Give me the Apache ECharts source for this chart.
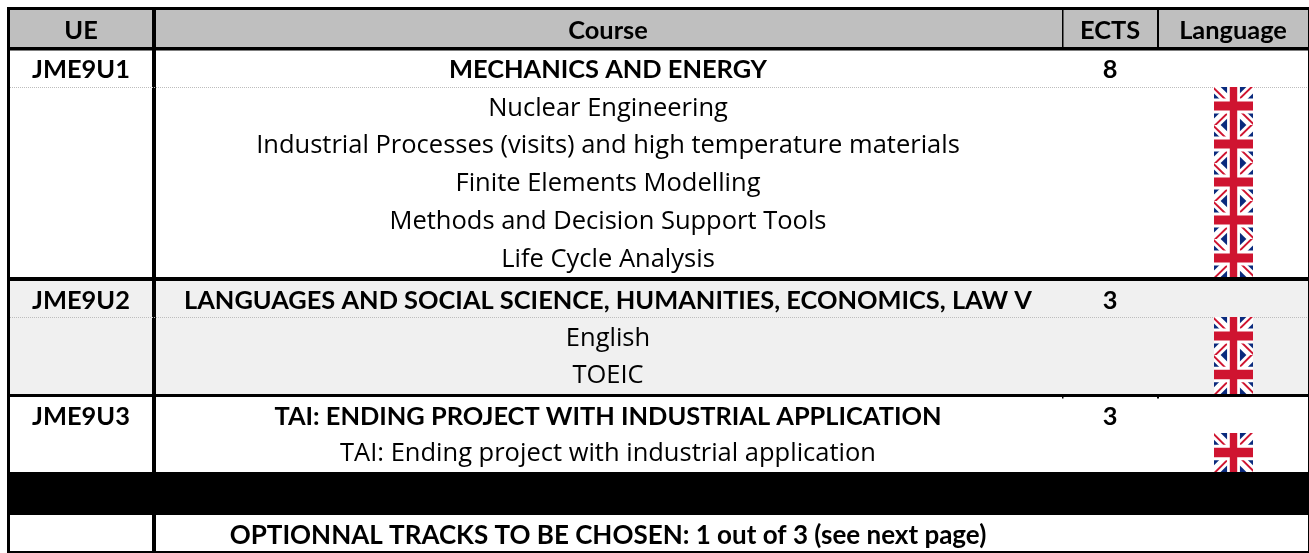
<!DOCTYPE html>
<html>
<head>
<meta charset="utf-8">
<title>Course table</title>
<style>
html,body{margin:0;padding:0;background:#fff}
#main{width:1309px;height:553px}
</style>
<script src="https://cdn.jsdelivr.net/npm/echarts@6/dist/echarts.min.js"></script>
</head>
<body>
<div id="main"></div>
<script>
// table content
var headerLabels = ['UE', 'Course', 'ECTS', 'Language'];
var ueCodes = ['JME9U1', 'JME9U2', 'JME9U3'];
var ueTitles = ['MECHANICS AND ENERGY', 'LANGUAGES AND SOCIAL SCIENCE, HUMANITIES, ECONOMICS, LAW V', 'TAI: ENDING PROJECT WITH INDUSTRIAL APPLICATION'];
var ueEcts = [8, 3, 3];
var mechanicsCourses = ['Nuclear Engineering', 'Industrial Processes (visits) and high temperature materials', 'Finite Elements Modelling', 'Methods and Decision Support Tools', 'Life Cycle Analysis'];
var languageCourses = ['English', 'TOEIC'];
var projectCourses = ['TAI: Ending project with industrial application'];
var optionalTitle = 'OPTIONNAL TRACKS TO BE CHOSEN: 1 out of 3 (see next page)';

// layout, in pixels of the axes below
var colCenter = [81, 608, 1110, 1233];
var rowEdge = [10, 47, 87, 125, 163, 201, 239, 277, 317, 355, 394, 433, 472, 515, 552];
var rowText = [31, 70, 109, 145.5, 183.5, 221.5, 259.5, 301, 339, 376, 417, 454, 0, 536];
var textSize = [24, 25.4, 26];   // regular, bold, bold mixed case

var textRows = [];   // [column, row, text, textSize index]
var flagRows = [];
var row = 0;
headerLabels.forEach(function (t, i) { textRows.push([i, row, t, 1]); });
row++;
[mechanicsCourses, languageCourses, projectCourses].forEach(function (courses, u) {
    textRows.push([0, row, ueCodes[u], 1]);
    textRows.push([1, row, ueTitles[u], 1]);
    textRows.push([2, row, String(ueEcts[u]), 1]);
    row++;
    courses.forEach(function (c) {
        textRows.push([1, row, c, 0]);
        flagRows.push([row]);
        row++;
    });
});
row++;  // black band
textRows.push([1, row, optionalTitle, 2]);

// [x0, y0, x1, y1, colour]
var blocks = [
    [10, 10, 1308, 47, '#bfbfbf'],
    [10, 281, 1308, 394, '#f0f0f0'],
    [7, 7, 1308, 10, '#000'],
    [7, 47, 1308, 50.5, '#000'],
    [7, 277, 1308, 281, '#000'],
    [7, 394, 1308, 397, '#000'],
    [7, 472, 1308, 515, '#000'],
    [7, 551, 1309, 553, '#000'],
    [7, 7, 10, 553, '#000'],
    [152, 7, 156, 553, '#000'],
    [1062, 10, 1063.5, 47, '#000'],
    [1157, 10, 1159, 47, '#000'],
    [1062, 397, 1063.5, 398.5, '#000'],
    [1157, 397, 1159, 398.5, '#000'],
    [1308, 7, 1309, 553, '#000']
];
var dottedRows = [87, 317];

function poly(pts, fill) {
    return { type: 'polygon', shape: { points: pts }, style: { fill: fill } };
}

function renderBlock(params, api) {
    var a = api.coord([api.value(0), api.value(1)]);
    var b = api.coord([api.value(2), api.value(3)]);
    return { type: 'rect', shape: { x: a[0], y: a[1], width: b[0] - a[0], height: b[1] - a[1] }, style: { fill: blocks[params.dataIndex][4] } };
}

function renderDots(params, api) {
    var a = api.coord([10, api.value(0)]);
    var b = api.coord([1308, api.value(0)]);
    return { type: 'line', shape: { x1: a[0], y1: a[1] + 0.5, x2: b[0], y2: b[1] + 0.5 }, style: { stroke: '#bdbdbd', lineWidth: 1, lineDash: [1, 1] } };
}

function renderText(params, api) {
    var p = api.coord([colCenter[api.value(0)], rowText[api.value(1)]]);
    var t = textRows[params.dataIndex];
    return {
        type: 'text',
        style: {
            x: p[0], y: p[1], text: t[2], fill: '#000',
            textAlign: 'center', textVerticalAlign: 'middle',
            fontFamily: t[3] ? 'Lato, sans-serif' : '"Open Sans", sans-serif',
            fontSize: textSize[t[3]] + (t[3] ? 0 : 1.5), fontWeight: t[3] ? 'bold' : 'normal'
        }
    };
}

// union jack squeezed into the language cell
function renderFlag(params, api) {
    var r = api.value(0);
    var o = api.coord([1214, rowEdge[r]]);
    var e = api.coord([1253, rowEdge[r + 1]]);
    var x = o[0], y = o[1], w = e[0] - x, h = e[1] - y;
    var P = function (u, v) { return [x + u * w, y + v * h]; };
    var blue = '#0a2a7d', red = '#cf1430', white = '#fff';
    var d = 0.17, q = 0.07;
    var kids = [
        poly([P(0, 0), P(1, 0), P(1, 1), P(0, 1)], blue),
        poly([P(0, 0), P(d, 0), P(1, 1 - d), P(1, 1), P(1 - d, 1), P(0, d)], white),
        poly([P(1, 0), P(1, d), P(d, 1), P(0, 1), P(0, 1 - d), P(1 - d, 0)], white),
        // red diagonals, offset in each quarter
        poly([P(0, 0), P(0, q), P(0.5 - q, 0.5), P(0.5, 0.5)], red),
        poly([P(1, 0), P(1 - q, 0), P(0.5, 0.5 - q), P(0.5, 0.5)], red),
        poly([P(1, 1), P(1, 1 - q), P(0.5 + q, 0.5), P(0.5, 0.5)], red),
        poly([P(0, 1), P(q, 1), P(0.5, 0.5 + q), P(0.5, 0.5)], red),
        poly([P(0.335, 0), P(0.665, 0), P(0.665, 1), P(0.335, 1)], white),
        poly([P(0, 0.3), P(1, 0.3), P(1, 0.7), P(0, 0.7)], white),
        poly([P(0.405, 0), P(0.595, 0), P(0.595, 1), P(0.405, 1)], red),
        poly([P(0, 0.38), P(1, 0.38), P(1, 0.62), P(0, 0.62)], red)
    ];
    return { type: 'group', children: kids };
}

var chart = echarts.init(document.getElementById('main'));
chart.setOption({
    animation: false,
    backgroundColor: '#fff',
    grid: { left: 0, right: 0, top: 0, bottom: 0 },
    xAxis: { type: 'value', min: 0, max: 1309, show: false },
    yAxis: { type: 'value', min: 0, max: 553, inverse: true, show: false },
    series: [
        { type: 'custom', renderItem: renderBlock, coordinateSystem: 'cartesian2d', clip: false, silent: true, z: 1,
          data: blocks.map(function (b) { return b.slice(0, 4); }) },
        { type: 'custom', renderItem: renderDots, coordinateSystem: 'cartesian2d', silent: true, z: 2,
          encode: { y: 0 }, data: dottedRows.map(function (y) { return [y]; }) },
        { type: 'custom', renderItem: renderFlag, coordinateSystem: 'cartesian2d', silent: true, z: 3,
          encode: { y: 0 }, data: flagRows },
        { type: 'custom', renderItem: renderText, coordinateSystem: 'cartesian2d', silent: true, z: 4,
          data: textRows }
    ]
});
</script>
</body>
</html>
